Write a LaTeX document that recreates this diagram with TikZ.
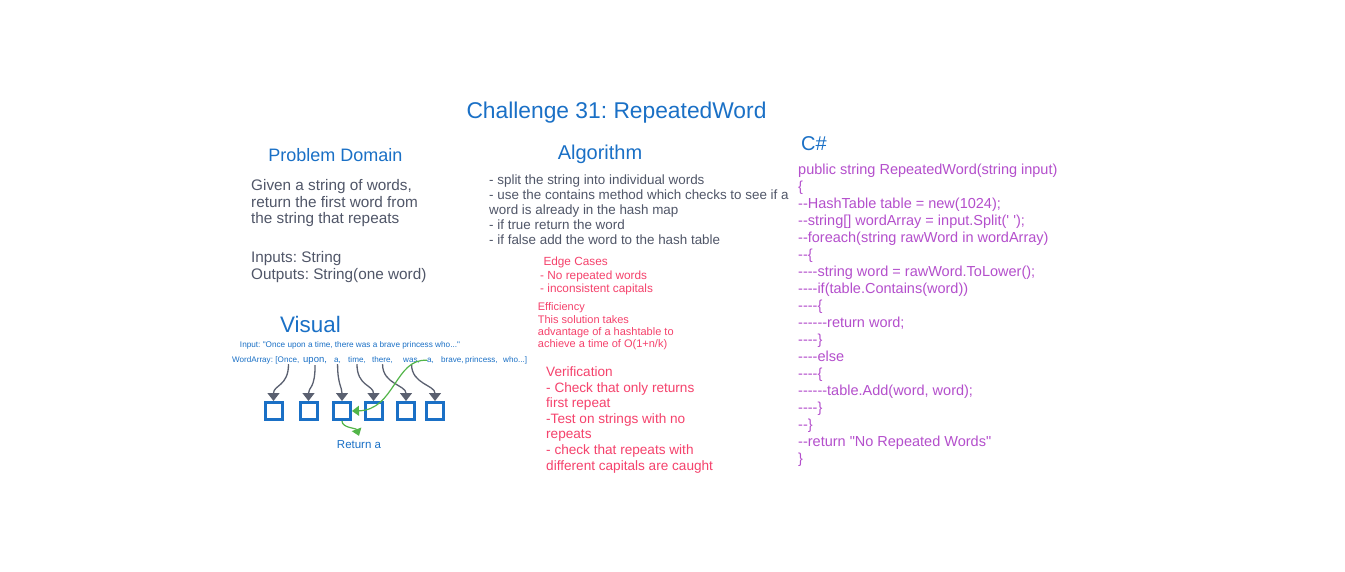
\documentclass[tikz,border=0pt]{standalone}
\usepackage{fontspec}
\setmainfont{Liberation Sans}[Ligatures=TeXOff]
\usetikzlibrary{arrows.meta}
\definecolor{hblue}{HTML}{1A70C6}
\definecolor{tgrey}{HTML}{505668}
\definecolor{tpink}{HTML}{F5426C}
\definecolor{tpurple}{HTML}{B44FCC}
\definecolor{agrey}{HTML}{5A6070}
\definecolor{agreen}{HTML}{52B548}
\newcommand{\fsz}[2]{\fontsize{#1}{#2}\selectfont}
\frenchspacing
\begin{document}
\begin{tikzpicture}[x=1pt,y=-1pt,
  txt/.style={anchor=base west, inner sep=0pt, align=left},
  head/.style={anchor=base, inner sep=0pt, text=hblue},
  word/.style={anchor=base west, inner sep=0pt, text=hblue, font=\fsz{8.1}{9}},
  cell/.style={draw=hblue, line width=3pt, minimum size=17pt, inner sep=0pt},
  garrow/.style={draw=agrey, line width=1.3pt, -{Triangle[length=8pt,width=12pt]}},
  grarrow/.style={draw=agreen, line width=1.2pt, -{Triangle[length=7pt,width=10pt]}}]
\useasboundingbox (0,0) rectangle (1345,572);
\fill[white] (0,0) rectangle (1345,572);

% title and headings
\node[head, font=\fsz{22.8}{26}] (title) at (616.5,119) {Challenge 31: RepeatedWord};
\node[head, font=\fsz{18}{20}] (hpd) at (335.5,161.5) {Problem Domain};
\node[head, font=\fsz{20}{22}] (halg) at (600,159.5) {Algorithm};
\node[txt, text=hblue, font=\fsz{20}{22}] (hcs) at (801,151) {C\#};
\node[head, font=\fsz{22.4}{24}] (hvis) at (310.5,332) {Visual};

% problem domain (base anchor = baseline of last line)
\node[txt, text=tgrey, font=\fsz{15.3}{16.6}] (pd1) at (251,223.7) {Given a string of words,\\return the first word from\\the string that repeats};
\node[txt, text=tgrey, font=\fsz{15.3}{16.6}] (pd2) at (251,279.3) {Inputs: String\\Outputs: String(one word)};

% algorithm
\node[txt, text=tgrey, font=\fsz{13.4}{14.85}] (alg) at (489,244.4) {- split the string into individual words\\- use the contains method which checks to see if a\\word is already in the hash map\\- if true return the word\\- if false add the word to the hash table};

% edge cases
\node[txt, text=tpink, font=\fsz{11.8}{13.5}] (edge1) at (543.3,265.7) {Edge Cases};
\node[txt, text=tpink, font=\fsz{11.8}{13.5}] (edge2) at (540,292.8) {- No repeated words\\- inconsistent capitals};

% efficiency
\node[txt, text=tpink, font=\fsz{11}{12.35}] (eff) at (537.7,347.75) {Efficiency\\This solution takes\\advantage of a hashtable to\\achieve a time of O(1+n/k)};

% verification
\node[txt, text=tpink, font=\fsz{13.6}{15.55}] (ver) at (546,470) {Verification\\- Check that only returns\\first repeat\\-Test on strings with no\\repeats\\- check that repeats with\\different capitals are caught};

% code
\node[txt, text=tpurple, font=\fsz{14.5}{17}] (code) at (798,463.3) {public string RepeatedWord(string input)\\\{\\--HashTable table = new(1024);\\--string[] wordArray = input.Split(' ');\\--foreach(string rawWord in wordArray)\\--\{\\----string word = rawWord.ToLower();\\----if(table.Contains(word))\\----\{\\------return word;\\----\}\\----else\\----\{\\------table.Add(word, word);\\----\}\\--\}\\--return "No Repeated Words"\\\}};

% visual
\node[head, font=\fsz{8.2}{9}] (inp) at (350,347) {Input: "Once upon a time, there was a brave princess who..."};
\node[word] (wlab) at (232,362) {WordArray: [};
\node[word] (w1) at (277.5,362) {Once,};
\node[word, font=\fsz{9.5}{10}] (w2) at (303,362) {upon,};
\node[word] (w3) at (334,362) {a,};
\node[word] (w4) at (348,362) {time,};
\node[word] (w5) at (372,362) {there,};
\node[word] (w6) at (403,362) {was,};
\node[word] (w7) at (427,362) {a,};
\node[word] (w8) at (441,362) {brave,};
\node[word] (w9) at (465,362) {princess,};
\node[word] (w10) at (503,362) {who...]};

\node[cell] (b1) at (273.5,411) {};
\node[cell] (b2) at (308.5,411) {};
\node[cell] (b3) at (342,411) {};
\node[cell] (b4) at (373.5,411) {};
\node[cell] (b5) at (406,411) {};
\node[cell] (b6) at (435,411) {};

\draw[garrow] ([yshift=-1pt]w1.south) .. controls +(0,22) and +(0,-16) .. (b1.north);
\draw[garrow] ([yshift=-1pt]w2.south) .. controls +(0,24) and +(0,-14) .. (b2.north);
\draw[garrow] ([yshift=-1pt]w3.south) .. controls +(0,20) and +(0,-14) .. (b3.north);
\draw[garrow] ([yshift=-1pt]w4.south) .. controls +(0,22) and +(0,-16) .. (b4.north);
\draw[garrow] ([yshift=-1pt]w5.south) .. controls +(0,20) and +(0,-16) .. (b5.north);
\draw[garrow] ([yshift=-1pt]w6.south) .. controls +(0,20) and +(0,-16) .. (b6.north);

\draw[grarrow] (w7.west) .. controls (395,358) and (395,410) .. (b3.east);
\node[anchor=base, inner sep=0pt, text=hblue, font=\fsz{11.5}{12}] (ret) at (359,448) {Return a};
\draw[grarrow] (b3.south) .. controls +(0,7) and +(-3,-8) .. ([yshift=4pt]ret.north);
\end{tikzpicture}
\end{document}
